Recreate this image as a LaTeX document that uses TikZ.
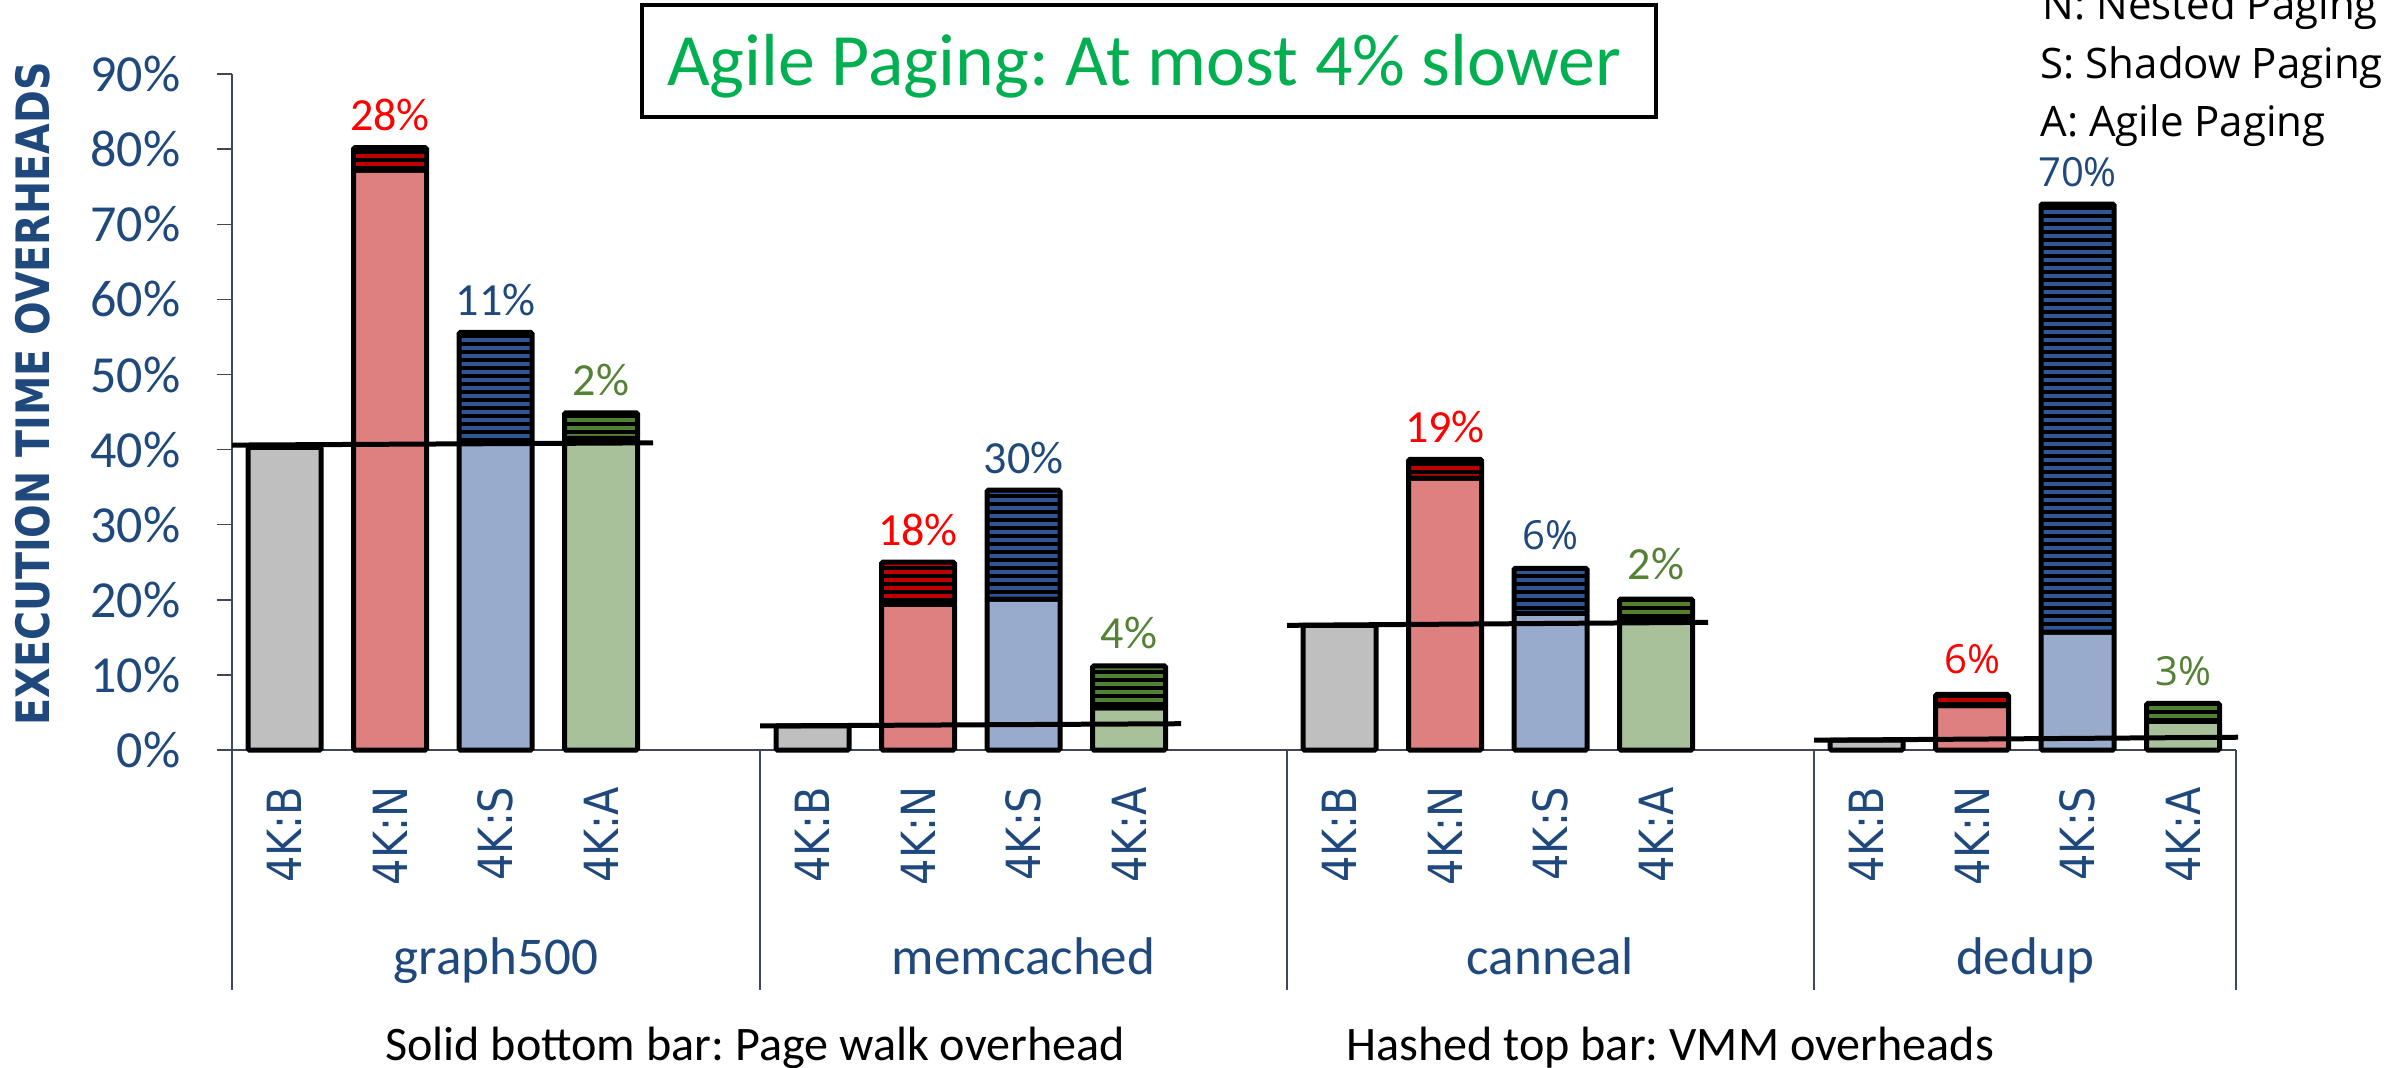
\documentclass[tikz,border=0pt]{standalone}
\usepackage{fontspec}
\setmainfont{Carlito}
\newfontfamily\osfont{Open Sans}
\newfontfamily\dvfont{DejaVu Sans}
\usetikzlibrary{patterns.meta}
\frenchspacing
\definecolor{axisblue}{HTML}{1F497D}
\definecolor{titlegreen}{HTML}{00B050}
\definecolor{labred}{HTML}{FF0000}
\definecolor{labgreen}{HTML}{548235}
\definecolor{fgray}{HTML}{BFBFBF}
\definecolor{fred}{HTML}{DF8080}
\definecolor{fblue}{HTML}{98ABCC}
\definecolor{fgreen}{HTML}{A9C19A}
\definecolor{sred}{HTML}{C00000}
\definecolor{sblue}{HTML}{2F5597}
\definecolor{sgreen}{HTML}{548235}
\definecolor{axisgray}{HTML}{404858}
\tikzset{
  barline/.style={draw=black,line width=0.5mm,rounded corners=0.4pt},
  baseln/.style={draw=black,line width=0.5mm},
  axisline/.style={draw=axisgray,line width=0.15mm},
  ticklab/.style={anchor=east,inner sep=0,text=axisblue,font=\fontsize{14.8}{17}\selectfont},
  pctlab/.style={anchor=base,inner sep=0,font=\fontsize{13.1}{15}\selectfont},
  pctlabos/.style={anchor=base,inner sep=0,font=\osfont\fontsize{11.4}{14}\selectfont},
  catlab/.style={rotate=90,anchor=east,inner sep=0,text=axisblue,font=\dvfont\fontsize{13.4}{16}\selectfont},
  grplab/.style={anchor=base,inner sep=0,text=axisblue,font=\fontsize{15.1}{18}\selectfont},
  bottomlab/.style={anchor=base,inner sep=0,text=black,font=\fontsize{13.7}{16}\selectfont},
  leglab/.style={anchor=base west,inner sep=0,text=black,font=\osfont\fontsize{11.95}{14}\selectfont},
}
% values in percent; 10% = 75.1 units, 0% at y=750
\newcommand\solidseg[4]{%
  \pgfmathsetmacro\xa{#1}\pgfmathsetmacro\xb{#1+73}%
  \pgfmathsetmacro\ya{750-7.51*#2}\pgfmathsetmacro\yb{750-7.51*#3}%
  \filldraw[barline,fill=#4] (\xa,\ya) rectangle (\xb,\yb);}
\newcommand\hashseg[4]{%
  \pgfmathsetmacro\xa{#1}\pgfmathsetmacro\xb{#1+73}%
  \pgfmathsetmacro\ya{750-7.51*#2}\pgfmathsetmacro\yb{750-7.51*#3}%
  \fill[black] (\xa,\ya) rectangle (\xb,\yb);
  \fill[pattern={Lines[angle=0,distance=0.8mm,line width=0.34mm]},pattern color=#4] (\xa,\ya) rectangle (\xb,\yb);
  \draw[barline] (\xa,\ya) rectangle (\xb,\yb);}
\newcommand\catname[1]{\scalebox{0.88}[1]{#1}}
\begin{document}
\begin{tikzpicture}[x=0.1mm,y=-0.1mm]
\clip (0,0) rectangle (2397,1068);
\fill[white] (0,0) rectangle (2397,1068);

% axes
\draw[axisline] (232,74) -- (232,990);
\foreach \v in {0,...,9} {\draw[axisline] (217,{750-75.1*\v}) -- (232,{750-75.1*\v});}
\draw[axisline] (217,750) -- (2236,750);
\foreach \gx in {760,1287,1814,2236} {\draw[axisline] (\gx,750) -- (\gx,990);}

% tick labels
\node[ticklab] (tick0) at (181,750) {0\%};
\foreach \v in {1,...,9} {\node[ticklab] (tick\v) at (181,{750-75.1*\v}) {\v0\%};}

% y title
\node[rotate=90,inner sep=0,text=axisblue,font=\dvfont\bfseries\fontsize{13.1}{16}\selectfont] (ytitle) at (33,394) {\scalebox{0.86}[1]{EXECUTION TIME OVERHEADS}};

% group 1: graph500
\solidseg{248}{0}{40.3}{fgray}
\solidseg{353.5}{0}{77.2}{fred}\hashseg{353.5}{77.2}{80.2}{sred}
\solidseg{459}{0}{41.0}{fblue}\hashseg{459}{41.0}{55.6}{sblue}
\solidseg{564.5}{0}{41.5}{fgreen}\hashseg{564.5}{41.5}{44.9}{sgreen}
\draw[baseln] (232,{750-7.51*40.6}) -- (653,{750-7.51*40.9});

% group 2: memcached
\solidseg{776}{0}{3.2}{fgray}
\solidseg{881.5}{0}{19.4}{fred}\hashseg{881.5}{19.4}{25.0}{sred}
\solidseg{987}{0}{20.1}{fblue}\hashseg{987}{20.1}{34.6}{sblue}
\solidseg{1092.5}{0}{5.6}{fgreen}\hashseg{1092.5}{5.6}{11.2}{sgreen}
\draw[baseln] (760,{750-7.51*3.2}) -- (1181,{750-7.51*3.5});

% group 3: canneal
\solidseg{1303}{0}{16.6}{fgray}
\solidseg{1408.5}{0}{36.2}{fred}\hashseg{1408.5}{36.2}{38.7}{sred}
\solidseg{1514}{0}{18.2}{fblue}\hashseg{1514}{18.2}{24.2}{sblue}
\solidseg{1619.5}{0}{17.3}{fgreen}\hashseg{1619.5}{17.3}{20.1}{sgreen}
\draw[baseln] (1287,{750-7.51*16.6}) -- (1708,{750-7.51*17.0});

% group 4: dedup
\solidseg{1830}{0}{1.3}{fgray}
\solidseg{1935.5}{0}{5.9}{fred}\hashseg{1935.5}{5.9}{7.4}{sred}
\solidseg{2041}{0}{15.7}{fblue}\hashseg{2041}{15.7}{72.7}{sblue}
\solidseg{2146.5}{0}{3.8}{fgreen}\hashseg{2146.5}{3.8}{6.2}{sgreen}
\draw[baseln] (1814,{750-7.51*1.3}) -- (2238,{750-7.51*1.7});

% percentage labels
\node[pctlab,text=labred] (p12) at (390,{750-7.51*80.2-17}) {28\%};
\node[pctlab,text=axisblue] (p13) at (495.5,{750-7.51*55.6-17}) {11\%};
\node[pctlab,text=labgreen] (p14) at (601,{750-7.51*44.9-17}) {2\%};
\node[pctlab,text=labred] (p22) at (918,{750-7.51*25.0-17}) {18\%};
\node[pctlab,text=axisblue] (p23) at (1023.5,{750-7.51*34.6-17}) {30\%};
\node[pctlab,text=labgreen] (p24) at (1129,{750-7.51*11.2-17}) {4\%};
\node[pctlab,text=labred] (p32) at (1445,{750-7.51*38.7-17}) {19\%};
\node[pctlabos,text=axisblue] (p33) at (1550.5,{750-7.51*24.2-19}) {6\%};
\node[pctlab,text=labgreen] (p34) at (1656,{750-7.51*20.1-20}) {2\%};
\node[pctlabos,text=labred] (p42) at (1972,{750-7.51*7.4-21}) {6\%};
\node[pctlabos,text=axisblue] (p43) at (2077.5,{750-7.51*72.7-18}) {70\%};
\node[pctlabos,text=labgreen] (p44) at (2183,{750-7.51*6.2-18}) {3\%};

% category labels
\foreach \g/\gx in {1/248,2/776,3/1303,4/1830} {
  \node[catlab] (c\g b) at (\gx+36.5,786) {\catname{4K:B}};
  \node[catlab] (c\g n) at (\gx+142,786) {\catname{4K:N}};
  \node[catlab] (c\g s) at (\gx+247.5,786) {\catname{4K:S}};
  \node[catlab] (c\g a) at (\gx+353,786) {\catname{4K:A}};
}

% group labels
\node[grplab] (g1) at (496,974) {graph500};
\node[grplab] (g2) at (1023.5,974) {memcached};
\node[grplab] (g3) at (1550.5,974) {canneal};
\node[grplab] (g4) at (2025,974) {dedup};

% title
\node[draw=black,line width=0.45mm,minimum width=101.4mm,minimum height=11.2mm,inner sep=0] (titlebox) at (1149,61) {};
\node[anchor=base,inner sep=0,text=titlegreen,font=\fontsize{21}{25}\selectfont] (title) at (1144,86) {Agile Paging: At most 4\% slower};

% legend
\node[leglab] (legn) at (2042,20) {N: Nested Paging};
\node[leglab] (legs) at (2040,79) {S: Shadow Paging};
\node[leglab] (lega) at (2040,137) {A: Agile Paging};

% bottom notes
\node[bottomlab] (note1) at (755,1060) {Solid bottom bar: Page walk overhead};
\node[bottomlab] (note2) at (1670,1060) {Hashed top bar: VMM overheads};
\end{tikzpicture}
\end{document}
